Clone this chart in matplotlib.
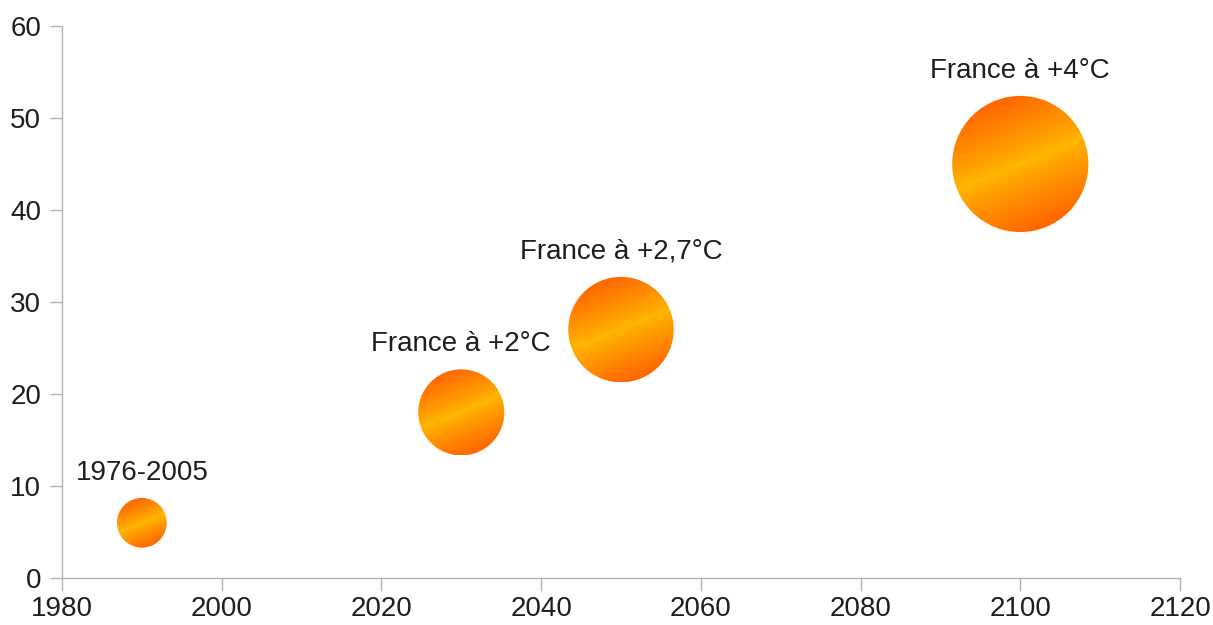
import numpy as np
import matplotlib
matplotlib.use("Agg")
import matplotlib.pyplot as plt
from matplotlib.patches import Ellipse
from matplotlib.colors import LinearSegmentedColormap

# data
years = [1990, 2030, 2050, 2100]
values = [6, 18, 27, 45]
sizes = [6, 18, 27, 45]
labels = ["1976-2005", "France à +2°C", "France à +2,7°C", "France à +4°C"]

plt.rcParams['font.family'] = ['Liberation Sans', 'DejaVu Sans']

W, H = 1213, 625
fig = plt.figure(figsize=(W / 100, H / 100), dpi=100)
ax = fig.add_axes([62 / W, (H - 578) / H, (1180 - 62) / W, (578 - 26) / H])

ax.set_xlim(1980, 2120)
ax.set_ylim(0, 60)
ax.set_xticks(np.arange(1980, 2121, 20))
ax.set_yticks(np.arange(0, 61, 10))

grey = '#b3b3b3'
for side in ['top', 'right']:
    ax.spines[side].set_visible(False)
for side in ['left', 'bottom']:
    ax.spines[side].set_color(grey)
    ax.spines[side].set_linewidth(1.0)
ax.tick_params(axis='both', direction='out', length=9, width=1.0, color=grey,
               labelsize=20, labelcolor='#1e1e1e')
ax.tick_params(axis='y', pad=6)
ax.tick_params(axis='x', pad=4)

cmap = LinearSegmentedColormap.from_list('sun', ['#ffb800', '#ff9200', '#ff6600'])

# pixel -> data conversion for circular bubbles
fig.canvas.draw()
x0, y0 = ax.transData.transform((1980, 0))
x1, y1 = ax.transData.transform((2120, 60))
px_x = (x1 - x0) / 140.0
px_y = (y1 - y0) / 60.0

k = 10.15  # radius in pixels per sqrt(size)
ang = np.deg2rad(22)
n = 200
u, v = np.meshgrid(np.linspace(-1, 1, n), np.linspace(-1, 1, n))
t = u * np.sin(ang) - v * np.cos(ang)
grad = np.clip(np.abs(t), 0, 1) ** 0.8

for x, y, s, lab in zip(years, values, sizes, labels):
    r = k * np.sqrt(s)
    dx = r / px_x
    dy = r / px_y
    circ = Ellipse((x, y), 2 * dx, 2 * dy, facecolor='none', edgecolor='none')
    ax.add_patch(circ)
    im = ax.imshow(grad, cmap=cmap, vmin=0, vmax=1, origin='lower',
                   extent=(x - dx, x + dx, y - dy, y + dy), aspect='auto',
                   interpolation='bilinear', zorder=3)
    im.set_clip_path(circ)
    ax.annotate(lab, (x, y), xytext=(0, r + 25), textcoords='offset pixels',
                ha='center', va='center', fontsize=20, color='#1e1e1e')

ax.set_xlim(1980, 2120)
ax.set_ylim(0, 60)

fig.savefig('out.png', dpi=100)
